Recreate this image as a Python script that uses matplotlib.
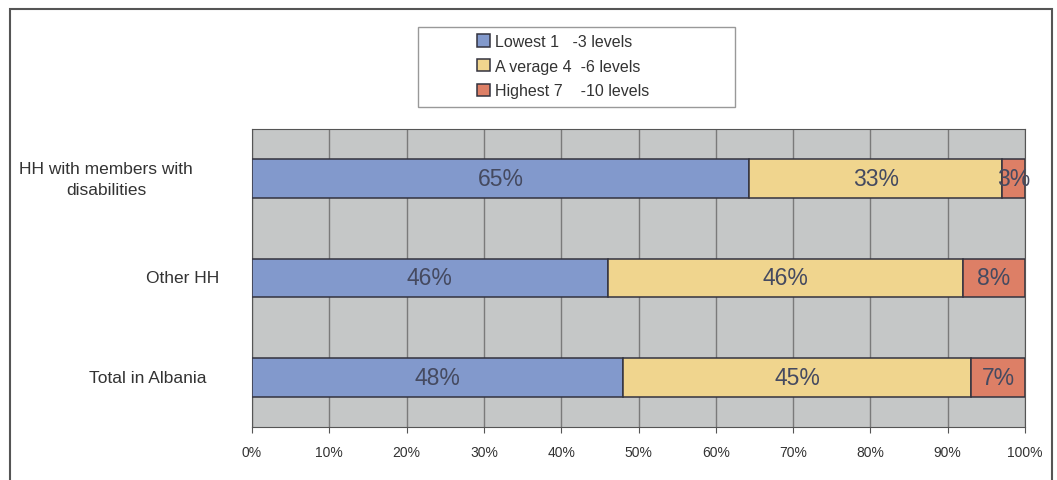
import matplotlib.pyplot as plt
import matplotlib.patches as mpatches
import matplotlib.transforms as mtransforms
import numpy as np

plt.rcParams['font.family'] = ['Liberation Sans', 'DejaVu Sans']

# Household groups, bottom to top
groups = ['Total in Albania', 'Other HH', 'HH with members with\ndisabilities']
lowest = [48, 46, 65]
average = [45, 46, 33]
highest = [7, 8, 3]

series_names = ['Lowest 1   -3 levels', 'A verage 4  -6 levels', 'Highest 7    -10 levels']
colors = ['#8299cc', '#f0d58e', '#dd7f66']
tick_labels = ['0%', '10%', '20%', '30%', '40%', '50%', '60%', '70%', '80%', '90%', '100%']

W, H = 1057, 481
fig = plt.figure(figsize=(W / 100, H / 100), dpi=100)
ax = fig.add_axes([252 / W, 53 / H, 773 / W, 298 / H])
ax.set_facecolor('#c5c7c7')

# Outer frame around the whole chart
fig.patches.append(mpatches.Rectangle((10 / W, -0.05), 1042 / W, 1.05 - 10 / H,
                                      transform=fig.transFigure, fill=False,
                                      edgecolor='#555555', linewidth=1.5))
# Legend box
fig.patches.append(mpatches.Rectangle((418 / W, 1 - 108 / H), 317 / W, 80 / H,
                                      transform=fig.transFigure, fill=False,
                                      edgecolor='#999999', linewidth=1.0))

data = np.array([lowest, average, highest], dtype=float)
# 100% stacked: rescale each row so the segments fill the axis
shares = data / data.sum(axis=0) * 100
y = np.arange(len(groups))
left = np.zeros(len(groups))
for i in range(3):
    ax.barh(y, shares[i], left=left, height=0.39, color=colors[i],
            edgecolor='#33333f', linewidth=1.1, label=series_names[i], zorder=3)
    for j in range(len(groups)):
        ax.text(left[j] + shares[i][j] / 2, y[j], f'{int(data[i][j])}%',
                ha='center', va='center', fontsize=16.5, color='#454a60', zorder=4)
    left += shares[i]

ax.set_xlim(0, 100)
ax.set_ylim(-0.5, 2.5)
ax.set_xticks(np.arange(0, 101, 10))
ax.set_xticklabels(tick_labels, fontsize=10, color='#333333')
ax.set_yticks(y)
ax.set_yticklabels([])
ax.tick_params(axis='y', length=0)
ax.tick_params(axis='x', length=4, color='#555555', pad=9)
ax.grid(axis='x', color='#7a7a7a', linewidth=1.0, zorder=0)
ax.set_axisbelow(True)
for side in ['left', 'right', 'top', 'bottom']:
    ax.spines[side].set_color('#555555')

# Category labels: x in figure coords, y in data coords
label_x = [148, 183, 106]
label_trans = mtransforms.blended_transform_factory(fig.transFigure, ax.transData)
for j, name in enumerate(groups):
    ax.text(label_x[j] / W, y[j], name, transform=label_trans, ha='center', va='center',
            fontsize=12.5, color='#333333', linespacing=1.5)

leg = fig.legend(loc='upper left', bbox_to_anchor=(477 / W, 1 - 35 / H), fontsize=11.5,
                 frameon=False, handlelength=0.8, handleheight=0.8, handletextpad=0.35,
                 labelspacing=0.6, borderpad=0.0, borderaxespad=0.0)
for t in leg.get_texts():
    t.set_color('#333333')

plt.savefig('out.png', dpi=100)
plt.close()
